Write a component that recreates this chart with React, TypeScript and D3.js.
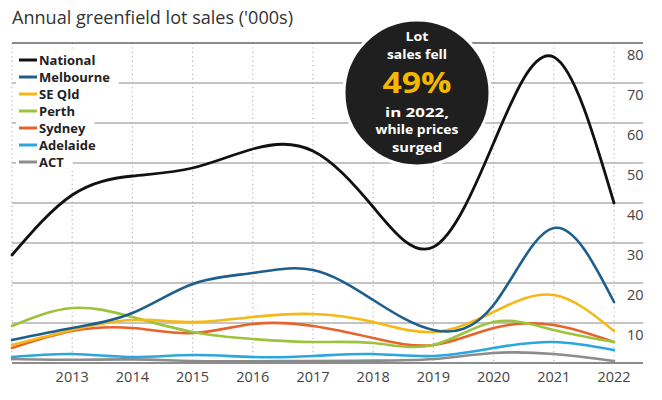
import React, { useEffect, useRef } from "react";
import * as d3 from "d3";

const years = [2012, 2013, 2014, 2015, 2016, 2017, 2018, 2019, 2020, 2021, 2022];
const national = [27, 42, 46.75, 48.75, 53.5, 53, 39, 29, 55, 76.5, 40];
const melbourne = [5.75, 8.75, 12.5, 19.75, 22.5, 23.25, 15.75, 8.25, 14.5, 33.75, 15.25];
const seQld = [4.5, 8.25, 10.75, 10.25, 11.5, 12.25, 10.25, 7.75, 12.75, 17, 8];
const perth = [9.25, 13.75, 11.5, 7.75, 6, 5.25, 5, 4.5, 10.25, 8.25, 5.25];
const sydney = [3.75, 8, 8.75, 7.5, 9.75, 9.25, 6.25, 4.5, 8.75, 9.5, 5.25];
const adelaide = [1.5, 2.25, 1.5, 2, 1.5, 1.75, 2.25, 1.75, 3.75, 5.25, 3.25];
const act = [1, 0.8, 0.9, 0.5, 0.45, 0.5, 0.6, 1, 2.5, 2.25, 0.5];

const seriesNames = ["National", "Melbourne", "SE Qld", "Perth", "Sydney", "Adelaide", "ACT"];
const seriesValues = [national, melbourne, seQld, perth, sydney, adelaide, act];
const seriesColors = ["#111111", "#1d5e8c", "#f5b814", "#9dc33c", "#e8632b", "#2ca6de", "#8c8c8c"];
const yTicks = [10, 20, 30, 40, 50, 60, 70, 80];
const xTicks = [2013, 2014, 2015, 2016, 2017, 2018, 2019, 2020, 2021, 2022];
const calloutLines = ["Lot", "sales fell", "49%", "in 2022,", "while prices", "surged"];

const W = 662;
const H = 400;
const FONT = "'Open Sans', 'Noto Sans', sans-serif";

export default function App() {
  const ref = useRef<SVGSVGElement | null>(null);

  useEffect(() => {
    const svg = d3.select(ref.current);
    svg.selectAll("*").remove();

    const x = d3.scaleLinear().domain([2012, 2022]).range([12, 614]);
    const y = d3.scaleLinear().domain([0, 80]).range([363, 43]);
    const right = 643;

    svg.append("rect").attr("width", W).attr("height", H).attr("fill", "#fff");

    // title
    svg.append("text")
      .attr("x", 12).attr("y", 24)
      .attr("font-family", FONT).attr("font-size", 18).attr("fill", "#333")
      .attr("textLength", 281).attr("lengthAdjust", "spacingAndGlyphs")
      .text("Annual greenfield lot sales ('000s)");

    // vertical dotted gridlines
    svg.append("g").selectAll("line").data(years).join("line")
      .attr("x1", (d) => x(d)).attr("x2", (d) => x(d))
      .attr("y1", y(80)).attr("y2", y(0))
      .attr("stroke", "#b5b5b5").attr("stroke-width", 1.2)
      .attr("stroke-dasharray", "1.2,3.2");

    // horizontal gridlines
    svg.append("g").selectAll("line").data(yTicks.filter((t) => t < 80)).join("line")
      .attr("x1", 12).attr("x2", right)
      .attr("y1", (d) => y(d)).attr("y2", (d) => y(d))
      .attr("stroke", "#b0b0b0").attr("stroke-width", 1.5);

    // top rule and baseline
    svg.append("line").attr("x1", 12).attr("x2", right).attr("y1", y(80)).attr("y2", y(80))
      .attr("stroke", "#666").attr("stroke-width", 1.5);
    svg.append("line").attr("x1", 12).attr("x2", right).attr("y1", y(0)).attr("y2", y(0))
      .attr("stroke", "#666").attr("stroke-width", 1.5);

    // y tick labels
    svg.append("g").selectAll("text").data(yTicks).join("text")
      .attr("x", 627).attr("y", (d) => y(d) + 12)
      .attr("dy", "0.35em")
      .attr("font-family", FONT).attr("font-size", 14.5).attr("fill", "#444")
      .text((d) => d);

    // x tick labels
    svg.append("g").selectAll("text").data(xTicks).join("text")
      .attr("x", (d) => x(d)).attr("y", 377).attr("dy", "0.35em")
      .attr("text-anchor", "middle")
      .attr("font-family", FONT).attr("font-size", 14.5).attr("fill", "#444")
      .text((d) => d);

    // lines
    const line = d3.line<number>()
      .x((_, i) => x(years[i]))
      .y((d) => y(d))
      .curve(d3.curveNatural);

    const order = [6, 5, 4, 3, 2, 1, 0];
    svg.append("g").selectAll("path").data(order).join("path")
      .attr("d", (i) => line(seriesValues[i]) as string)
      .attr("fill", "none")
      .attr("stroke", (i) => seriesColors[i])
      .attr("stroke-width", (i) => (i === 0 ? 2.8 : 2.6))
      .attr("stroke-linejoin", "round").attr("stroke-linecap", "round");

    // legend
    const lg = svg.append("g");
    seriesNames.forEach((name, i) => {
      const cy = 60 + i * 17;
      const g = lg.append("g");
      const bg = g.append("rect").attr("fill", "#fff");
      g.append("line").attr("x1", 19).attr("x2", 37).attr("y1", cy).attr("y2", cy)
        .attr("stroke", seriesColors[i]).attr("stroke-width", 3);
      const t = g.append("text").attr("x", 39).attr("y", cy).attr("dy", "0.36em")
        .attr("font-family", FONT).attr("font-size", 13).attr("font-weight", 700)
        .attr("fill", "#222").text(name);
      const w = (t.node() as SVGTextElement).getComputedTextLength();
      bg.attr("x", 16).attr("y", cy - 8.5).attr("width", 39 + w - 16 + 9).attr("height", 17);
    });

    // callout circle
    const cx = 417, ccy = 93, r = 73;
    svg.append("circle").attr("cx", cx).attr("cy", ccy).attr("r", r)
      .attr("fill", "#1f1f1f").attr("stroke", "#fff").attr("stroke-width", 3);
    const lineY = [36, 54, 83, 112, 129.5, 147];
    const lineW = [23, 60, 69, 64, 83, 50];
    calloutLines.forEach((txt, i) => {
      const big = i === 2;
      svg.append("text")
        .attr("x", cx).attr("y", lineY[i]).attr("dy", "0.36em")
        .attr("text-anchor", "middle")
        .attr("font-family", FONT).attr("font-weight", 700)
        .attr("font-size", big ? 29 : 12.5)
        .attr("fill", big ? "#f5b800" : "#fff")
        .attr("textLength", lineW[i]).attr("lengthAdjust", "spacingAndGlyphs")
        .text(txt);
    });
  }, []);

  return <svg ref={ref} width={W} height={H} style={{ display: "block", position: "absolute", left: 0, top: 0 }} />;
}
